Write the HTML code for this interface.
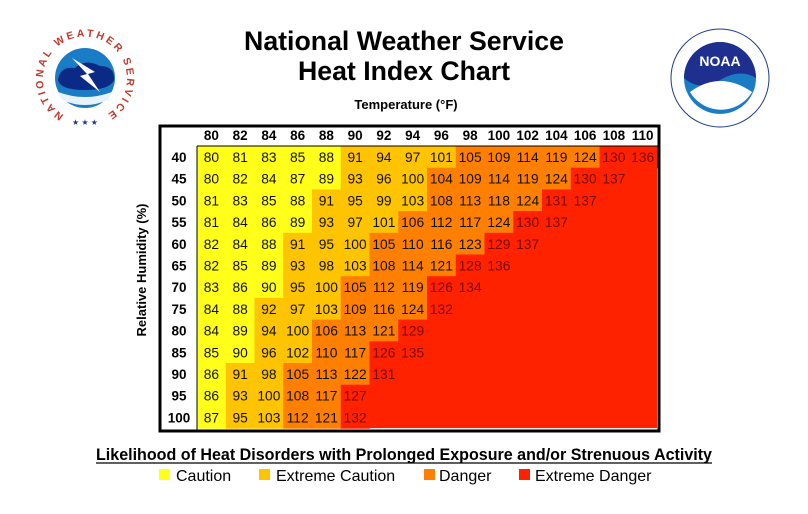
<!DOCTYPE html>
<html><head><meta charset="utf-8"><style>
body{margin:0;background:#fff;width:808px;height:509px;overflow:hidden;font-family:"Liberation Sans",Arial,sans-serif}
</style></head><body>
<svg id="s" width="808" height="509" xmlns="http://www.w3.org/2000/svg" font-family="Liberation Sans, Arial, sans-serif">
<!-- NWS logo -->
<g>
<circle cx="85" cy="78" r="30" fill="#1a7cc4"/>
<path d="M58 80 Q60 66 75 68 Q85 58 100 66 Q115 66 114 80 Q110 90 85 90 Q60 90 58 80Z" fill="#0b2a86"/>
<path d="M58 92 Q85 102 112 92 L108 100 Q85 110 62 100Z" fill="#e8f2fb"/>
<path d="M72 58 L95 72 L88 74 L100 92 L80 76 L87 74Z" fill="#fff"/>
<path id="arc" d="M64 115 A42 42 0 1 1 106 115" fill="none"/>
<text font-size="10.5" font-weight="bold" fill="#c0392b" letter-spacing="2.6"><textPath href="#arc">NATIONAL WEATHER SERVICE</textPath></text>
<text x="85" y="125" font-size="8" fill="#1a3a8a" text-anchor="middle">★ ★ ★</text>
</g>
<!-- NOAA logo -->
<g>
<circle cx="720" cy="78" r="49" fill="#fff" stroke="#1a3a8a" stroke-width="1"/>
<circle cx="720" cy="78" r="36" fill="#1a7cc4"/>
<path d="M684 78 A36 36 0 0 1 756 78 Q740 68 720 80 Q700 92 684 78Z" fill="#1e2f8f"/>
<path d="M690 92 Q720 70 752 92 A36 36 0 0 1 690 92Z" fill="#fff"/>
<text x="720" y="66" font-size="14" font-weight="bold" fill="#fff" text-anchor="middle">NOAA</text>
</g>
<text x="404" y="50" font-size="26.7" font-weight="bold" text-anchor="middle">National Weather Service</text>
<text x="404" y="80" font-size="26.7" font-weight="bold" text-anchor="middle">Heat Index Chart</text>
<text x="406" y="109" font-size="13" font-weight="bold" text-anchor="middle">Temperature (°F)</text>
<text transform="translate(146 270) rotate(-90)" font-size="13" font-weight="bold" text-anchor="middle">Relative Humidity (%)</text>
<g id="grid"></g>
<text x="404" y="460" font-size="16.6" font-weight="bold" text-anchor="middle" textLength="616" lengthAdjust="spacingAndGlyphs">Likelihood of Heat Disorders with Prolonged Exposure and/or Strenuous Activity</text>
<line x1="96" y1="463" x2="712" y2="463" stroke="#000" stroke-width="1.3"/>
<rect x="159" y="469" width="11" height="11" fill="#ffff1a"/><text x="176" y="481" font-size="16">Caution</text>
<rect x="259" y="469" width="11" height="11" fill="#ffc400"/><text x="276" y="481" font-size="16">Extreme Caution</text>
<rect x="424" y="469" width="11" height="11" fill="#ff7f00"/><text x="439" y="481" font-size="16">Danger</text>
<rect x="519" y="469" width="11" height="11" fill="#ff2200"/><text x="535" y="481" font-size="16">Extreme Danger</text>
</svg>
<script>
var D={40:[80,81,83,85,88,91,94,97,101,105,109,114,119,124,130,136],
45:[80,82,84,87,89,93,96,100,104,109,114,119,124,130,137],
50:[81,83,85,88,91,95,99,103,108,113,118,124,131,137],
55:[81,84,86,89,93,97,101,106,112,117,124,130,137],
60:[82,84,88,91,95,100,105,110,116,123,129,137],
65:[82,85,89,93,98,103,108,114,121,128,136],
70:[83,86,90,95,100,105,112,119,126,134],
75:[84,88,92,97,103,109,116,124,132],
80:[84,89,94,100,106,113,121,129],
85:[85,90,96,102,110,117,126,135],
90:[86,91,98,105,113,122,131],
95:[86,93,100,108,117,127],
100:[87,95,103,112,121,132]};
var rh=[40,45,50,55,60,65,70,75,80,85,90,95,100];
var g=document.getElementById('grid'),h='';
var x0=197,cw=28.75,y0=146,rhh=21.7;
h+='<rect x="160" y="126" width="499" height="305" fill="#fff"/>';
h+='<rect x="'+x0+'" y="'+y0+'" width="'+(16*cw)+'" height="'+(13*rhh)+'" fill="#ff2200"/>';
function col(v){return v<=90?'#ffff1a':v<=103?'#ffc400':v<=124?'#ff8000':'#ff2200';}
rh.forEach(function(r,i){var y=y0+i*rhh;var a=D[r];
 a.forEach(function(v,j){var x=x0+j*cw;
  h+='<rect x="'+x+'" y="'+y+'" width="'+(cw+0.6)+'" height="'+(rhh+0.6)+'" fill="'+col(v)+'"/>';
  h+='<text x="'+(x+cw/2)+'" y="'+(y+16)+'" font-size="13.8" text-anchor="middle" fill="'+(v>=125?'#7a0a00':'#111')+'">'+v+'</text>';});
 h+='<text x="179" y="'+(y+16)+'" font-size="13.5" font-weight="bold" text-anchor="middle">'+r+'</text>';});
for(var j=0;j<16;j++)h+='<text x="'+(x0+j*cw+cw/2)+'" y="140" font-size="13.5" font-weight="bold" text-anchor="middle">'+(80+2*j)+'</text>';
h+='<line x1="'+x0+'" y1="'+y0+'" x2="'+x0+'" y2="430" stroke="#000" stroke-width="1"/>';
h+='<line x1="'+x0+'" y1="'+y0+'" x2="658" y2="'+y0+'" stroke="#000" stroke-width="1"/>';
h+='<rect x="160" y="126" width="499" height="305" fill="none" stroke="#000" stroke-width="3"/>';
g.innerHTML=h;
</script>
</body></html>
